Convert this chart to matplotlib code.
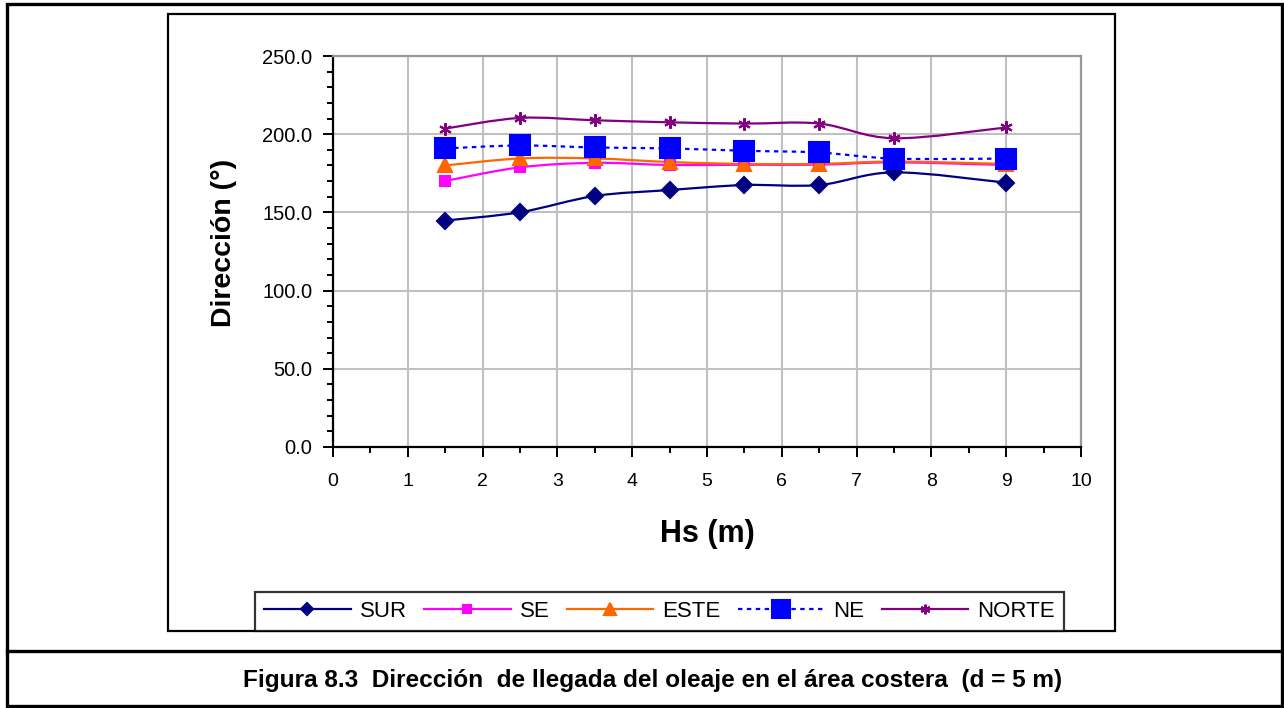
import matplotlib
matplotlib.use("Agg")
import matplotlib.pyplot as plt
from matplotlib.path import Path
from matplotlib.patches import PathPatch, Rectangle
from matplotlib.lines import Line2D
from matplotlib.ticker import MultipleLocator, FormatStrFormatter

plt.rcParams['font.family'] = ['Liberation Sans', 'DejaVu Sans']

# Hs (m) for each run
hs = [1.5, 2.5, 3.5, 4.5, 5.5, 6.5, 7.5, 9.0]

# wave direction (deg) reaching the coast, one list per offshore sector
sur = [144.8, 150.1, 160.5, 164.3, 167.5, 167.5, 175.6, 169.0]
se = [170.1, 178.8, 181.7, 180.3, 180.5, 180.5, 182.0, 180.3]
este = [180.0, 184.5, 184.5, 182.2, 181.0, 181.0, 182.5, 181.0]
ne = [190.9, 192.8, 191.5, 190.9, 189.4, 188.3, 184.4, 184.4]
norte = [203.6, 210.4, 208.9, 207.6, 206.8, 206.8, 197.4, 204.3]

names = ['SUR', 'SE', 'ESTE', 'NE', 'NORTE']
caption = 'Figura 8.3  Dirección  de llegada del oleaje en el área costera  (d = 5 m)'


def smooth_path(x, y):
    # Bezier curve through every point (spreadsheet-style smoothed line)
    n = len(x)
    verts = [(x[0], y[0])]
    codes = [Path.MOVETO]
    for i in range(n - 1):
        i0 = max(i - 1, 0)
        i3 = min(i + 2, n - 1)
        c1 = (x[i] + (x[i + 1] - x[i0]) / 6.0, y[i] + (y[i + 1] - y[i0]) / 6.0)
        c2 = (x[i + 1] - (x[i3] - x[i]) / 6.0, y[i + 1] - (y[i3] - y[i]) / 6.0)
        verts += [c1, c2, (x[i + 1], y[i + 1])]
        codes += [Path.CURVE4] * 3
    return Path(verts, codes)


W, H = 1284, 708
fig = plt.figure(figsize=(W / 100, H / 100), dpi=100)

# outer frame, caption separator and chart frame
fig.patches.append(Rectangle((7 / W, 1 - 706 / H), 1275 / W, 702 / H, transform=fig.transFigure,
                             fill=False, ec='black', lw=2.4))
fig.lines.append(Line2D([7 / W, 1282 / W], [1 - 651 / H, 1 - 651 / H], transform=fig.transFigure,
                        color='black', lw=2.4))
fig.patches.append(Rectangle((168 / W, 1 - 631 / H), 947 / W, 617 / H, transform=fig.transFigure,
                             fill=False, ec='black', lw=1.6))

ax = fig.add_axes([333 / W, 1 - 447 / H, 748 / W, 391 / H])

styles = [
    dict(color='#000080', marker='D', ms=8, ls='-', lms=6.5, mew=1.5),
    dict(color='#FF00FF', marker='s', ms=7, ls='-', lms=6, mew=1.5),
    dict(color='#FF6600', marker='^', ms=10, ls='-', lms=8, mew=1.5),
    dict(color='#0000FF', marker='s', ms=14, ls=(0, (2, 2)), lms=13, mew=1.5),
    dict(color='#800080', marker=(6, 2, 0), ms=9, ls='-', lms=7, mew=1.5),
]
series = [sur, se, este, ne, norte]

handles = []
for name, ys, st in zip(names, series, styles):
    ax.add_patch(PathPatch(smooth_path(hs, ys), fill=False, ec=st['color'], lw=1.6,
                           ls=st['ls'], zorder=3))
    ax.plot(hs, ys, ls='none', marker=st['marker'], ms=st['ms'], color=st['color'],
            mec=st['color'], mew=st['mew'], zorder=4)
    handles.append(Line2D([], [], color=st['color'], lw=1.6, ls=st['ls'], marker=st['marker'],
                          ms=st['lms'], mec=st['color'], mew=st['mew'], label=name))

ax.set_xlim(0, 10)
ax.set_ylim(0, 250)
ax.xaxis.set_major_locator(MultipleLocator(1))
ax.xaxis.set_minor_locator(MultipleLocator(0.5))
ax.yaxis.set_major_locator(MultipleLocator(50))
ax.yaxis.set_minor_locator(MultipleLocator(10))
ax.yaxis.set_major_formatter(FormatStrFormatter('%.1f'))
ax.grid(True, which='major', color='#c0c0c0', lw=1.5)
ax.set_axisbelow(True)

ax.tick_params(which='major', direction='out', length=7, width=1.4, labelsize=14, color='black')
ax.tick_params(which='minor', direction='out', length=4, width=1.4, color='black')
ax.tick_params(axis='x', which='major', pad=12)
ax.tick_params(axis='y', which='major', pad=8, labelsize=14.5)

for s in ['left', 'bottom']:
    ax.spines[s].set_color('black')
    ax.spines[s].set_linewidth(1.6)
for s in ['top', 'right']:
    ax.spines[s].set_color('#999999')
    ax.spines[s].set_linewidth(1.6)

ax.set_ylabel('Dirección (°)', fontsize=20.5, fontweight='bold')
ax.yaxis.set_label_coords(-0.128, 0.523)
ax.set_xlabel('Hs (m)', fontsize=22, fontweight='bold')
ax.xaxis.set_label_coords(0.5, -0.185)

leg = fig.legend(handles=handles, loc='lower center', ncol=5,
                 bbox_to_anchor=(659.5 / W, 1 - 631 / H),
                 fontsize=16, handlelength=3.9, handletextpad=0.4, columnspacing=0.78,
                 frameon=True, fancybox=False, borderaxespad=0, borderpad=0.4)
leg.get_frame().set_edgecolor('black')
leg.get_frame().set_linewidth(1.6)

fig.text(653 / W, 1 - 680 / H, caption, ha='center', va='center', fontsize=17.6, fontweight='bold')

fig.savefig('out.png', dpi=100)
